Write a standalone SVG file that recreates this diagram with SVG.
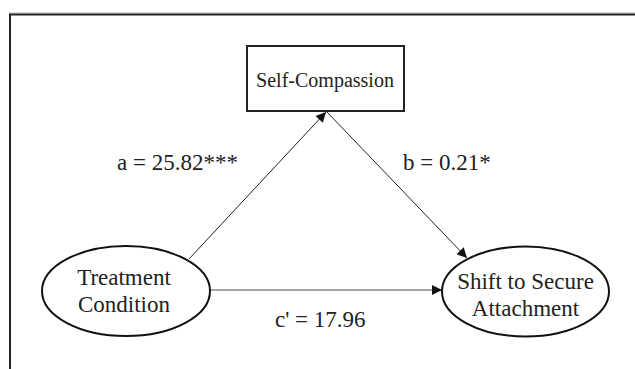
<svg xmlns="http://www.w3.org/2000/svg" width="635" height="369" viewBox="0 0 635 369">
<style>
text{font-family:'Liberation Serif','Times New Roman',Times,serif;fill:#222;}
.big{font-size:23px;}
.box{fill:#fff;stroke:#222;stroke-width:2;}
.ell{fill:#fff;stroke:#111;stroke-width:2;}
.edge{stroke:#222;stroke-width:1;fill:none;}
.gray{stroke:#888;stroke-width:1.5;fill:none;}
</style>
<defs>
<marker id="ah" viewBox="0 0 10 10" refX="10" refY="5" markerWidth="11" markerHeight="10" markerUnits="userSpaceOnUse" orient="auto">
<path d="M0,0 L10,5 L0,10 z" fill="#111"/>
</marker>
</defs>
<rect width="635" height="369" fill="#fff"/>
<g id="frame">
<line x1="9" y1="13" x2="635" y2="13" stroke="#bbb" stroke-width="1"/>
<line x1="9" y1="14.5" x2="635" y2="14.5" stroke="#222" stroke-width="2"/>
<line x1="10" y1="14" x2="10" y2="369" stroke="#222" stroke-width="2"/>
</g>
<g id="connectors" font-family="Liberation Serif, serif">
<line class="edge" x1="189" y1="259" x2="326" y2="112" marker-end="url(#ah)"/>
<line class="edge" x1="327" y1="112" x2="467" y2="258" marker-end="url(#ah)"/>
<line class="gray" x1="210" y1="290" x2="442" y2="290" marker-end="url(#ah)"/>
<text class="big" font-family="Liberation Serif, serif" x="117" y="170">a = 25.82***</text>
<text class="big" font-family="Liberation Serif, serif" x="403" y="170">b = 0.21*</text>
<text class="big" font-family="Liberation Serif, serif" x="275" y="327">c' = 17.96</text>
</g>
<g id="self-compassion">
<rect class="box" x="247" y="46" width="157" height="65"/>
<text font-family="Liberation Serif, serif" x="325" y="87" font-size="20" text-anchor="middle">Self-Compassion</text>
</g>
<g id="treatment">
<ellipse class="ell" cx="126" cy="291" rx="84" ry="45"/>
<text class="big" font-family="Liberation Serif, serif" x="124" y="285" text-anchor="middle">Treatment</text>
<text class="big" font-family="Liberation Serif, serif" x="124" y="312" text-anchor="middle">Condition</text>
</g>
<g id="shift">
<ellipse class="ell" cx="525.5" cy="291.5" rx="83.5" ry="45"/>
<text class="big" font-family="Liberation Serif, serif" x="525.5" y="289" text-anchor="middle">Shift to Secure</text>
<text class="big" font-family="Liberation Serif, serif" x="525.5" y="316" text-anchor="middle">Attachment</text>
</g>
</svg>
